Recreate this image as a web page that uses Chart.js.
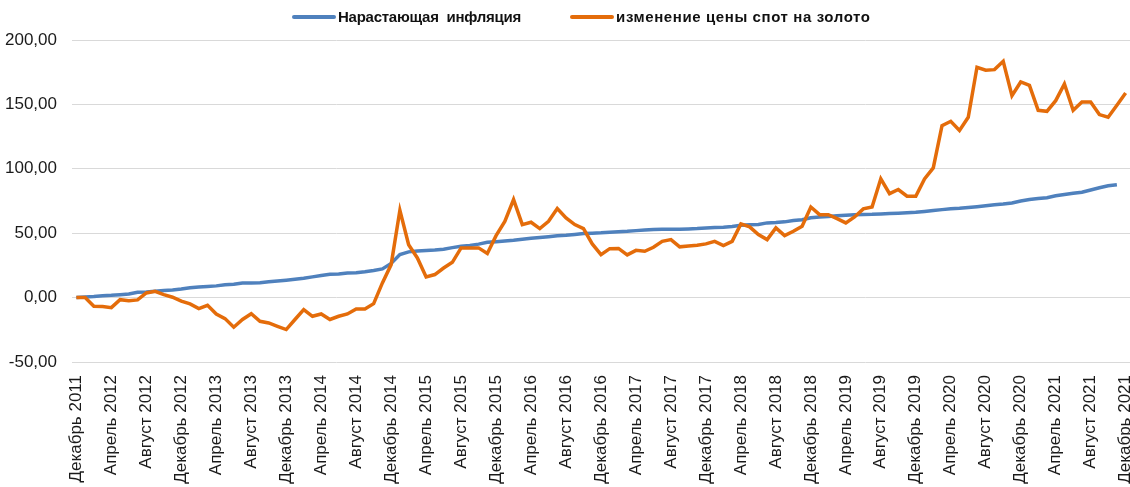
<!DOCTYPE html>
<html>
<head>
<meta charset="utf-8">
<script src="https://cdn.jsdelivr.net/npm/chart.js@4/dist/chart.umd.min.js"></script>
<style>
    body { margin: 0; background: #fff; }
    #wrap { position: relative; width: 1130px; height: 487px; overflow: hidden; }
    #legend {
        position: absolute; left: 292px; top: 8px;
        display: flex; align-items: center;
        font: bold 15px "Liberation Sans", Arial, sans-serif; color: #111;
    }
    .item { display: flex; align-items: center; }
    .swatch { display: inline-block; width: 44px; height: 4px; border-radius: 2px; margin-right: 2px; }
</style>
</head>
<body>
<div id="wrap">
    <canvas id="dataChart"></canvas>
    <div id="legend"></div>
</div>
<script>
const monthNames = ['Январь', 'Февраль', 'Март', 'Апрель', 'Май', 'Июнь', 'Июль', 'Август', 'Сентябрь', 'Октябрь', 'Ноябрь', 'Декабрь'];
const startYear = 2011;
const startMonth = 11; // Декабрь
const monthCount = 121;

const seriesNames = ['Нарастающая  инфляция', 'изменение цены спот на золото'];
const seriesColors = ['#4f81bd', '#e46c0a'];

// накопленная инфляция, % (декабрь 2011 = 0), до ноября 2021
const inflation = [
    0, 0.5, 0.9, 1.5, 1.8, 2.3, 2.8, 4.2, 4.3, 5.0, 5.5, 5.9, 6.6,
    7.6, 8.2, 8.6, 9.1, 9.9, 10.4, 11.3, 11.4, 11.6, 12.3, 12.9, 13.5,
    14.2, 15.0, 16.1, 17.1, 18.1, 18.3, 19.1, 19.3, 20.0, 21.0, 22.3, 26.5,
    33.4, 35.5, 36.2, 36.6, 36.9, 37.6, 38.8, 39.9, 40.5, 41.5, 42.9, 43.4,
    44.0, 44.5, 45.3, 46.0, 46.6, 47.3, 48.1, 48.4, 49.0, 49.7, 50.0, 50.3,
    50.8, 51.2, 51.5, 52.0, 52.4, 52.8, 53.0, 53.0, 53.0, 53.3, 53.6, 54.1,
    54.4, 54.7, 55.2, 56.1, 56.5, 56.8, 58.0, 58.3, 58.8, 59.8, 60.5, 62.0,
    62.6, 63.0, 63.5, 64.0, 64.4, 64.6, 64.7, 65.0, 65.3, 65.5, 65.8, 66.2,
    66.9, 67.6, 68.3, 69.0, 69.3, 69.9, 70.6, 71.3, 72.0, 72.6, 73.5, 75.0,
    76.1, 76.9, 77.6, 79.0, 80.0, 81.0, 81.8, 83.5, 85.3, 86.8, 87.7
];

// изменение цены спот на золото, % (декабрь 2011 = 0)
const goldChange = [
    0, 0, -6.7, -7, -7.8, -1.6, -2.4, -1.8, 3.6, 4.9, 2.3, 0.3, -2.8,
    -4.9, -8.5, -6, -12.7, -16.3, -23, -17, -12.5, -18.4, -19.7, -22.3, -24.8,
    -17, -9.3, -14.5, -12.7, -17, -14.5, -12.7, -8.8, -8.8, -4.7, 11.4, 25.6,
    67.8, 41.1, 30.8, 16.1, 17.9, 23, 27.4, 38.6, 38.6, 38.6, 34.2, 48.1,
    59.2, 76.1, 56.7, 58.5, 53.6, 59.2, 69.1, 61.9, 56.7, 53.6, 41.7, 33.4,
    38, 38.2, 33.2, 36.7, 36, 39.1, 43.7, 45, 39.4, 40, 40.6, 41.7,
    43.7, 40.4, 43.7, 57.2, 54.9, 48.9, 45, 54.1, 48.1, 51.5, 55.4, 70.3,
    64.4, 64.4, 61.3, 58, 62.6, 68.9, 70.4, 92.2, 80.7, 83.9, 78.7, 78.7,
    92.2, 100.7, 133.5, 136.9, 129.7, 140, 178.8, 176.5, 177, 183.5, 156.8, 167.4,
    164.8, 145.4, 144.6, 152.9, 165.9, 145.4, 151.9, 151.9, 142.1, 140, 149.3, 158.9
];

const yMin = -50;
const yMax = 200;
const yStep = 50;

function buildCategories() {
    const labels = [];
    for (let i = 0; i < monthCount; i++) {
        const m = (startMonth + i) % 12;
        const y = startYear + Math.floor((startMonth + i) / 12);
        labels.push(monthNames[m] + ' ' + y);
    }
    return labels;
}

const categories = buildCategories();
const series = [inflation, goldChange];

// легенда как в Excel: линия + подпись
const legend = document.getElementById('legend');
const legendGap = [49, 0];
const legendSpacing = ['-0.25px', '0.6px'];
seriesNames.forEach((name, i) => {
    const item = document.createElement('div');
    item.className = 'item';
    item.style.marginRight = legendGap[i] + 'px';
    item.innerHTML = `<span class="swatch" style="background:${seriesColors[i]}"></span>` +
        `<span style="letter-spacing:${legendSpacing[i]}">${name.replace(/ /g, '&nbsp;')}</span>`;
    legend.appendChild(item);
});

const tickFont = { family: '"Liberation Sans", Arial, sans-serif', size: 17 };

const dataChart = new Chart(document.getElementById('dataChart'), {
    type: 'line',
    data: {
        labels: categories,
        datasets: series.map((values, i) => ({
            label: seriesNames[i],
            data: values,
            borderColor: seriesColors[i],
            backgroundColor: seriesColors[i],
            borderWidth: 3.5,
            pointRadius: 0,
            tension: 0,
            order: i === 1 ? 0 : 1
        }))
    },
    options: {
        responsive: true,
        maintainAspectRatio: false,
        animation: false,
        layout: { padding: { top: 40, left: 0, right: 0, bottom: 0 } },
        plugins: {
            legend: { display: false },
            tooltip: { enabled: false }
        },
        scales: {
            x: {
                offset: true,
                grid: { display: false },
                border: { display: false },
                ticks: {
                    autoSkip: false,
                    maxRotation: 90,
                    minRotation: 90,
                    padding: 5,
                    color: '#1a1a1a',
                    font: tickFont,
                    callback: function (value, index) {
                        return index % 4 === 0 ? this.getLabelForValue(value) : '';
                    }
                },
                afterFit: (scale) => {
                    scale.height = 125;
                    // последняя подпись обрезается краем, как в оригинале
                    scale.paddingRight = 0;
                    scale.paddingLeft = 0;
                }
            },
            y: {
                min: yMin,
                max: yMax,
                grid: { color: '#d9d9d9', lineWidth: 1, drawTicks: false },
                border: { display: false },
                ticks: {
                    stepSize: yStep,
                    padding: 15,
                    color: '#1a1a1a',
                    font: tickFont,
                    callback: (v) => v.toFixed(2).replace('.', ',')
                },
                afterFit: (scale) => { scale.width = 72; }
            }
        }
    }
});
</script>
</body>
</html>
